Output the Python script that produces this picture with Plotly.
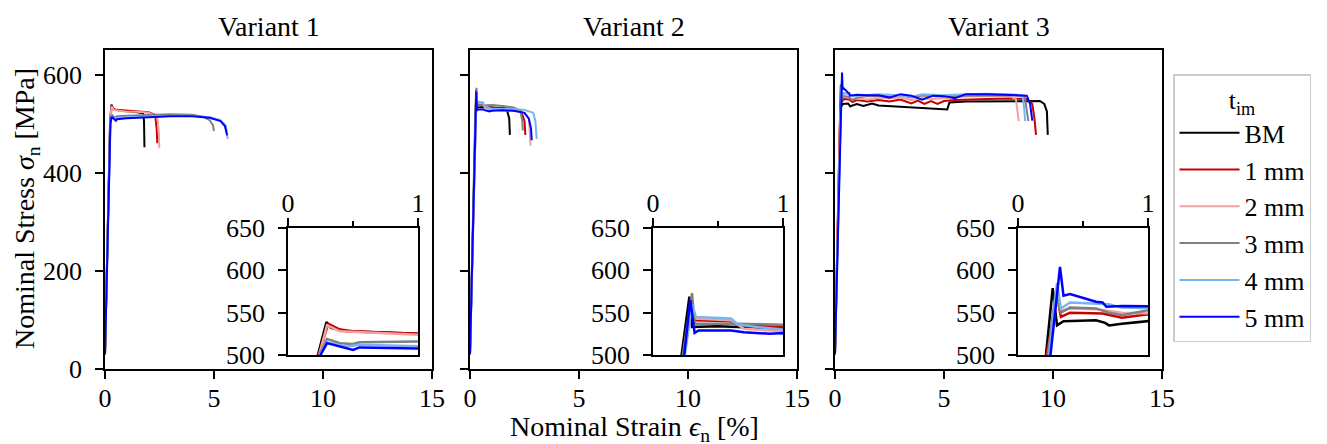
import plotly.graph_objects as go

# ---------------- data ----------------
SERIES = ["BM", "1 mm", "2 mm", "3 mm", "4 mm", "5 mm"]
VARIANTS = ["Variant 1", "Variant 2", "Variant 3"]

# Variant 1 (strain in %, stress in MPa)
V1_BM_STRAIN = [0, 0.23, 0.296, 0.33, 0.45, 0.6, 1.0, 1.5, 1.75, 1.79, 1.81]
V1_BM_STRESS = [30, 500, 539, 532, 528, 527, 525, 523, 521, 505, 452]
V1_1MM_STRAIN = [0, 0.235, 0.31, 0.4, 0.5, 1.0, 1.5, 2.0, 2.3, 2.37, 2.4]
V1_1MM_STRESS = [30, 500, 537, 530, 528, 526, 525, 523, 518, 490, 460]
V1_2MM_STRAIN = [0, 0.24, 0.3, 0.4, 1.0, 1.5, 2.0, 2.4, 2.47, 2.49]
V1_2MM_STRESS = [30, 500, 535, 528, 524, 524, 522, 515, 480, 450]
V1_3MM_STRAIN = [0, 0.24, 0.3, 0.4, 0.5, 0.55, 1.0, 2.0, 3.0, 4.0, 4.5, 4.8, 4.95, 5.0]
V1_3MM_STRESS = [30, 500, 519, 514, 513, 515, 516, 518, 519, 518, 514, 507, 497, 485]
V1_4MM_STRAIN = [0, 0.245, 0.3, 0.45, 0.55, 1.0, 2.0, 3.0, 4.0, 4.8, 5.3, 5.55, 5.63]
V1_4MM_STRESS = [30, 500, 515, 510, 512, 513, 515, 516, 516, 513, 507, 495, 469]
V1_5MM_STRAIN = [0, 0.25, 0.3, 0.5, 0.55, 1.0, 2.0, 3.0, 4.0, 4.8, 5.3, 5.5, 5.6]
V1_5MM_STRESS = [30, 500, 514, 506, 509, 511, 513, 515, 515, 512, 505, 495, 476]

# Variant 2
V2_BM_STRAIN = [0, 0.22, 0.28, 0.3, 0.5, 1.0, 1.4, 1.7, 1.8, 1.83]
V2_BM_STRESS = [30, 500, 569, 533, 534, 533, 531, 527, 510, 477]
V2_1MM_STRAIN = [0, 0.24, 0.285, 0.33, 0.6, 0.65, 1.0, 1.5, 2.0, 2.35, 2.5, 2.54]
V2_1MM_STRESS = [30, 500, 548, 541, 540, 535, 533, 532, 530, 525, 505, 477]
V2_2MM_STRAIN = [0, 0.24, 0.29, 0.32, 0.6, 0.7, 1.0, 1.5, 2.0, 2.5, 2.7, 2.78]
V2_2MM_STRESS = [30, 500, 550, 543, 541, 531, 528, 527, 526, 522, 510, 455]
V2_3MM_STRAIN = [0, 0.23, 0.3, 0.32, 0.6, 1.0, 1.5, 2.0, 2.3, 2.4, 2.42]
V2_3MM_STRESS = [30, 500, 573, 537, 537, 538, 536, 533, 527, 505, 486]
V2_4MM_STRAIN = [0, 0.245, 0.3, 0.33, 0.6, 0.65, 0.8, 1.0, 1.5, 2.0, 2.5, 2.9, 3.0, 3.06]
V2_4MM_STRESS = [30, 500, 560, 545, 543, 536, 533, 530, 530, 530, 528, 522, 505, 469]
V2_5MM_STRAIN = [0, 0.24, 0.287, 0.32, 0.35, 0.6, 0.7, 0.9, 1.0, 1.5, 2.0, 2.5, 2.7, 2.8, 2.83]
V2_5MM_STRESS = [30, 500, 565, 526, 529, 529, 527, 525, 526, 527, 526, 522, 510, 490, 466]

# Variant 3
V3_BM_STRAIN = [0, 0.215, 0.267, 0.3, 0.35, 0.6, 0.67, 0.7, 0.8, 1.0, 1.3, 1.7, 2.0, 3.0,
                5.15, 5.25, 6.0, 9.4, 9.6, 9.72, 9.76]
V3_BM_STRESS = [30, 500, 579, 535, 540, 541, 538, 535, 537, 540, 536, 541, 537, 534,
                529, 543, 545, 546, 540, 525, 477]
V3_1MM_STRAIN = [0, 0.22, 0.3, 0.33, 0.4, 0.65, 0.8, 1.0, 1.5, 2.0, 2.5, 3.0, 3.5, 3.8,
                 4.1, 4.4, 4.7, 5.0, 5.5, 6.0, 7.0, 8.0, 8.8, 9.05, 9.15, 9.22]
V3_1MM_STRESS = [30, 500, 570, 545, 550, 549, 544, 548, 545, 548, 545, 549, 541, 547,
                 540, 546, 540, 546, 548, 549, 550, 551, 550, 540, 510, 477]
V3_2MM_STRAIN = [0, 0.23, 0.3, 0.33, 0.4, 0.6, 0.8, 1.0, 1.5, 2.0, 2.5, 3.0, 3.5, 4.0,
                 4.5, 5.0, 6.0, 7.0, 8.0, 8.3, 8.38, 8.43]
V3_2MM_STRESS = [30, 500, 565, 552, 555, 554, 550, 551, 549, 553, 551, 553, 548, 552,
                 550, 552, 555, 556, 556, 550, 525, 505]
V3_3MM_STRAIN = [0, 0.23, 0.29, 0.33, 0.4, 0.6, 0.7, 0.8, 1.0, 1.5, 2.0, 2.5, 3.0, 3.5,
                 4.0, 5.0, 6.0, 7.0, 8.0, 8.7, 8.8, 8.87]
V3_3MM_STRESS = [30, 500, 575, 550, 556, 555, 550, 547, 553, 556, 557, 555, 558, 553,
                 557, 555, 557, 558, 558, 556, 530, 505]
V3_4MM_STRAIN = [0, 0.24, 0.3, 0.33, 0.4, 0.7, 0.8, 1.0, 1.5, 2.0, 3.0, 3.5, 4.0, 5.0,
                 6.0, 7.0, 8.0, 8.6, 8.68, 8.72]
V3_4MM_STRESS = [30, 500, 585, 555, 562, 560, 556, 557, 559, 560, 558, 555, 560, 558,
                 560, 561, 560, 558, 530, 505]
V3_5MM_STRAIN = [0, 0.25, 0.323, 0.35, 0.4, 0.6, 0.65, 0.68, 0.8, 1.0, 1.5, 2.0, 2.5,
                 3.0, 3.5, 4.0, 4.5, 5.0, 5.5, 6.0, 7.0, 8.0, 8.8, 8.95, 9.05]
V3_5MM_STRESS = [30, 500, 604, 570, 572, 563, 562, 557, 558, 559, 558, 558, 553,
                 560, 557, 549, 557, 556, 552, 560, 560, 559, 557, 540, 506]

MAIN_X_TICKS = [0, 5, 10, 15]
MAIN_Y_TICKS = [0, 200, 400, 600]
INSET_X_TICKS = [0, 1]
INSET_X_MINOR = [0.5]
INSET_Y_TICKS = [500, 550, 600, 650]

CURVES = [
    [(V1_BM_STRAIN, V1_BM_STRESS), (V1_1MM_STRAIN, V1_1MM_STRESS), (V1_2MM_STRAIN, V1_2MM_STRESS),
     (V1_3MM_STRAIN, V1_3MM_STRESS), (V1_4MM_STRAIN, V1_4MM_STRESS), (V1_5MM_STRAIN, V1_5MM_STRESS)],
    [(V2_BM_STRAIN, V2_BM_STRESS), (V2_1MM_STRAIN, V2_1MM_STRESS), (V2_2MM_STRAIN, V2_2MM_STRESS),
     (V2_3MM_STRAIN, V2_3MM_STRESS), (V2_4MM_STRAIN, V2_4MM_STRESS), (V2_5MM_STRAIN, V2_5MM_STRESS)],
    [(V3_BM_STRAIN, V3_BM_STRESS), (V3_1MM_STRAIN, V3_1MM_STRESS), (V3_2MM_STRAIN, V3_2MM_STRESS),
     (V3_3MM_STRAIN, V3_3MM_STRESS), (V3_4MM_STRAIN, V3_4MM_STRESS), (V3_5MM_STRAIN, V3_5MM_STRESS)],
]

# ---------------- style ----------------
COLORS = ["#000000", "#c80000", "#f5a0a0", "#808080", "#78b4ee", "#0000ff"]
FONT = "Liberation Serif"
W, H = 1327, 444
OFF = 8  # page body margin


def px_x(p):
    return (p - OFF) / W


def px_y(p):
    return 1 - (p - OFF) / H


MAIN_DOM_X = [(105, 432), (470, 797), (835, 1162)]
MAIN_DOM_Y = (50, 369)
INSET_DOM_X = [(288, 418), (653, 783), (1018, 1148)]
INSET_DOM_Y = (228, 355)

fig = go.Figure()

for p in range(3):
    main_ax = "" if p == 0 else str(p + 1)
    inset_ax = str(p + 4)
    for s, (xs, ys) in enumerate(CURVES[p]):
        fig.add_trace(go.Scatter(
            x=xs, y=ys, mode="lines", name=SERIES[s],
            line=dict(color=COLORS[s], width=2),
            xaxis="x" + main_ax, yaxis="y" + main_ax,
            legendgroup=SERIES[s], showlegend=(p == 0),
        ))
        fig.add_trace(go.Scatter(
            x=xs, y=ys, mode="lines", name=SERIES[s],
            line=dict(color=COLORS[s], width=2.5),
            xaxis="x" + inset_ax, yaxis="y" + inset_ax,
            legendgroup=SERIES[s], showlegend=False,
        ))

TICK_SIZE = 26
axis_common = dict(showline=True, linecolor="black", linewidth=1.5, mirror=True,
                   ticks="outside", ticklen=8, tickwidth=1.5, tickcolor="black",
                   showgrid=False, zeroline=False, automargin=False,
                   tickfont=dict(family=FONT, size=TICK_SIZE, color="black"))

layout = dict(
    template="none",
    width=W, height=H,
    margin=dict(l=0, r=0, t=0, b=0, autoexpand=False),
    paper_bgcolor="white", plot_bgcolor="white",
    font=dict(family=FONT, size=TICK_SIZE, color="black"),
    legend=dict(
        x=px_x(1173), y=px_y(74), xanchor="left", yanchor="top",
        bordercolor="#cccccc", borderwidth=1.5, bgcolor="white",
        font=dict(family=FONT, size=26, color="black"),
        title=dict(text="t<sub>im</sub>", side="top center",
                   font=dict(family=FONT, size=26, color="black")),
        tracegroupgap=0, itemwidth=60,
    ),
)

for p in range(3):
    k = "" if p == 0 else str(p + 1)
    x0, x1 = MAIN_DOM_X[p]
    layout["xaxis" + k] = dict(axis_common, domain=[px_x(x0), px_x(x1)], range=[0, 15],
                               tickvals=MAIN_X_TICKS, anchor="y" + k, ticklabelstandoff=-3)
    layout["yaxis" + k] = dict(axis_common, domain=[px_y(MAIN_DOM_Y[1]), px_y(MAIN_DOM_Y[0])],
                               range=[0, 650], tickvals=MAIN_Y_TICKS, anchor="x" + k,
                               showticklabels=(p == 0), ticklabelstandoff=8)
    j = str(p + 4)
    ix0, ix1 = INSET_DOM_X[p]
    layout["xaxis" + j] = dict(axis_common, domain=[px_x(ix0), px_x(ix1)], range=[0, 1],
                               tickvals=INSET_X_TICKS, side="top", anchor="y" + j,
                               ticklabelstandoff=-4,
                               minor=dict(tickvals=INSET_X_MINOR, ticks="outside", ticklen=5,
                                          tickwidth=1.5, tickcolor="black", showgrid=False))
    layout["yaxis" + j] = dict(axis_common, domain=[px_y(INSET_DOM_Y[1]), px_y(INSET_DOM_Y[0])],
                               range=[500, 650], tickvals=INSET_Y_TICKS, anchor="x" + j,
                               ticklabelstandoff=8)

fig.update_layout(**layout)

annotations = []
for p in range(3):
    x0, x1 = MAIN_DOM_X[p]
    annotations.append(dict(text=VARIANTS[p], x=px_x((x0 + x1) / 2), y=px_y(26),
                            xref="paper", yref="paper", showarrow=False,
                            xanchor="center", yanchor="middle",
                            font=dict(family=FONT, size=28, color="black")))
annotations.append(dict(text="Nominal Strain <i>ϵ</i><sub>n</sub> [%]", x=px_x(634), y=px_y(428),
                        xref="paper", yref="paper", showarrow=False,
                        xanchor="center", yanchor="middle",
                        font=dict(family=FONT, size=28, color="black")))
annotations.append(dict(text="Nominal Stress <i>σ</i><sub>n</sub> [MPa]", x=px_x(27), y=px_y(209),
                        xref="paper", yref="paper", showarrow=False, textangle=-90,
                        xanchor="center", yanchor="middle",
                        font=dict(family=FONT, size=28, color="black")))
fig.update_layout(annotations=annotations)

fig.write_html("out.html")
